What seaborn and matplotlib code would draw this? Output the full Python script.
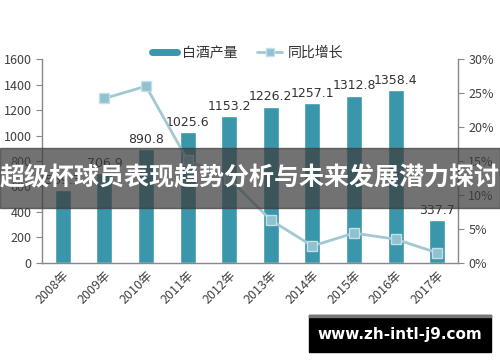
import numpy as np
import pandas as pd
import matplotlib
matplotlib.use('Agg')
from matplotlib import pyplot as plt
from matplotlib.lines import Line2D
from matplotlib.patches import Rectangle
import seaborn as sns

years = ['2008年', '2009年', '2010年', '2011年', '2012年',
         '2013年', '2014年', '2015年', '2016年', '2017年']
output = [569.3, 706.9, 890.8, 1025.6, 1153.2, 1226.2, 1257.1, 1312.8, 1358.4, 337.7]
growth = [np.nan, 24.2, 26.0, 15.1, 12.4, 6.3, 2.5, 4.4, 3.5, 1.5]
title = '超级杯球员表现趋势分析与未来发展潜力探讨'
site = 'www.zh-intl-j9.com'

sns.set_style('white')
plt.rcParams['font.family'] = ['Noto Sans CJK SC', 'DejaVu Sans']

bar_color = '#3a96ab'
line_color = '#a3c8d3'
text_color = '#404040'

df = pd.DataFrame({'year': years, 'output': output, 'growth': growth})
df['pos'] = np.arange(len(df))

fig = plt.figure(figsize=(5, 3.62), dpi=100)
ax = fig.add_axes([0.084, 0.2735, 0.832, 0.5635])

sns.barplot(data=df, x='year', y='output', color=bar_color, width=0.38,
            saturation=1, ax=ax)
ax.set_ylim(0, 1600)
ax.set_yticks(range(0, 1601, 200))
ax.set_xlim(-0.5, len(years) - 0.5)
ax.set_xlabel('')
ax.set_ylabel('')

# value labels above bars
for i, v in enumerate(output):
    ax.text(i, v + 25, f'{v:.1f}', ha='center', va='bottom',
            fontsize=9, color='#333333', family='DejaVu Sans')

# category boundary ticks on x
ax.set_xticks(np.arange(-0.5, len(years), 1), minor=True)
ax.tick_params(axis='x', which='major', length=0, pad=4)
ax.tick_params(axis='x', which='minor', length=4, color='#888888', direction='out')
ax.tick_params(axis='y', length=4, color='#888888', direction='out',
               labelsize=9, labelcolor=text_color)
for lab in ax.get_xticklabels():
    lab.set_rotation(45)
    lab.set_ha('right')
    lab.set_va('top')
    lab.set_rotation_mode('anchor')
    lab.set_fontsize(9)
    lab.set_color(text_color)

ax2 = ax.twinx()
sns.lineplot(data=df, x='pos', y='growth', color=line_color, linewidth=2,
             marker='s', markersize=7, markerfacecolor='#8fc1d1',
             markeredgecolor='#c5dfe8', markeredgewidth=1, ax=ax2)
ax2.set_ylim(0, 30)
ax2.set_yticks(range(0, 31, 5))
ax2.set_yticklabels([f'{t}%' for t in range(0, 31, 5)])
ax2.set_ylabel('')
ax2.set_xlabel('')
ax2.tick_params(axis='y', length=4, color='#888888', direction='out',
                labelsize=9, labelcolor=text_color)

for a in (ax, ax2):
    a.spines['top'].set_visible(False)
    for s in ('left', 'right', 'bottom'):
        a.spines[s].set_color('#888888')
        a.spines[s].set_linewidth(1)
ax.spines['right'].set_visible(False)
ax2.spines['left'].set_visible(False)
ax2.spines['bottom'].set_visible(False)

handles = [Line2D([], [], color=bar_color, linewidth=5),
           Line2D([], [], color=line_color, linewidth=2, marker='s',
                  markersize=6, markerfacecolor='#8fc1d1', markeredgecolor='#c5dfe8')]
fig.legend(handles, ['白酒产量', '同比增长'], loc='center', ncol=2,
           bbox_to_anchor=(0.495, 1 - 53 / 362), frameon=False, fontsize=10,
           handlelength=1.8, handletextpad=0.4, columnspacing=1.4,
           labelcolor='#333333')

# banner overlay
fig.patches.append(Rectangle((0, 1 - 208 / 362), 1, 60 / 362,
                             transform=fig.transFigure, color='#3c3c3c',
                             alpha=0.72, zorder=10))
fig.text(0.5, 1 - 178 / 362, title, ha='center', va='center', fontsize=18,
         fontweight='bold', color='white', zorder=11)

# site watermark box
fig.patches.append(Rectangle((309 / 500, 1 - 352 / 362), 182 / 500, 37 / 362,
                             transform=fig.transFigure, color='black', zorder=10))
fig.patches.append(Rectangle((309 / 500, 1 - 317 / 362), 182 / 500, 2 / 362,
                             transform=fig.transFigure, color='#777777', zorder=10))
fig.text(400 / 500, 1 - 335 / 362, site, ha='center', va='center', fontsize=11,
         fontweight='bold', color='white', family='DejaVu Sans', zorder=11)

fig.savefig('out.png', dpi=100)
